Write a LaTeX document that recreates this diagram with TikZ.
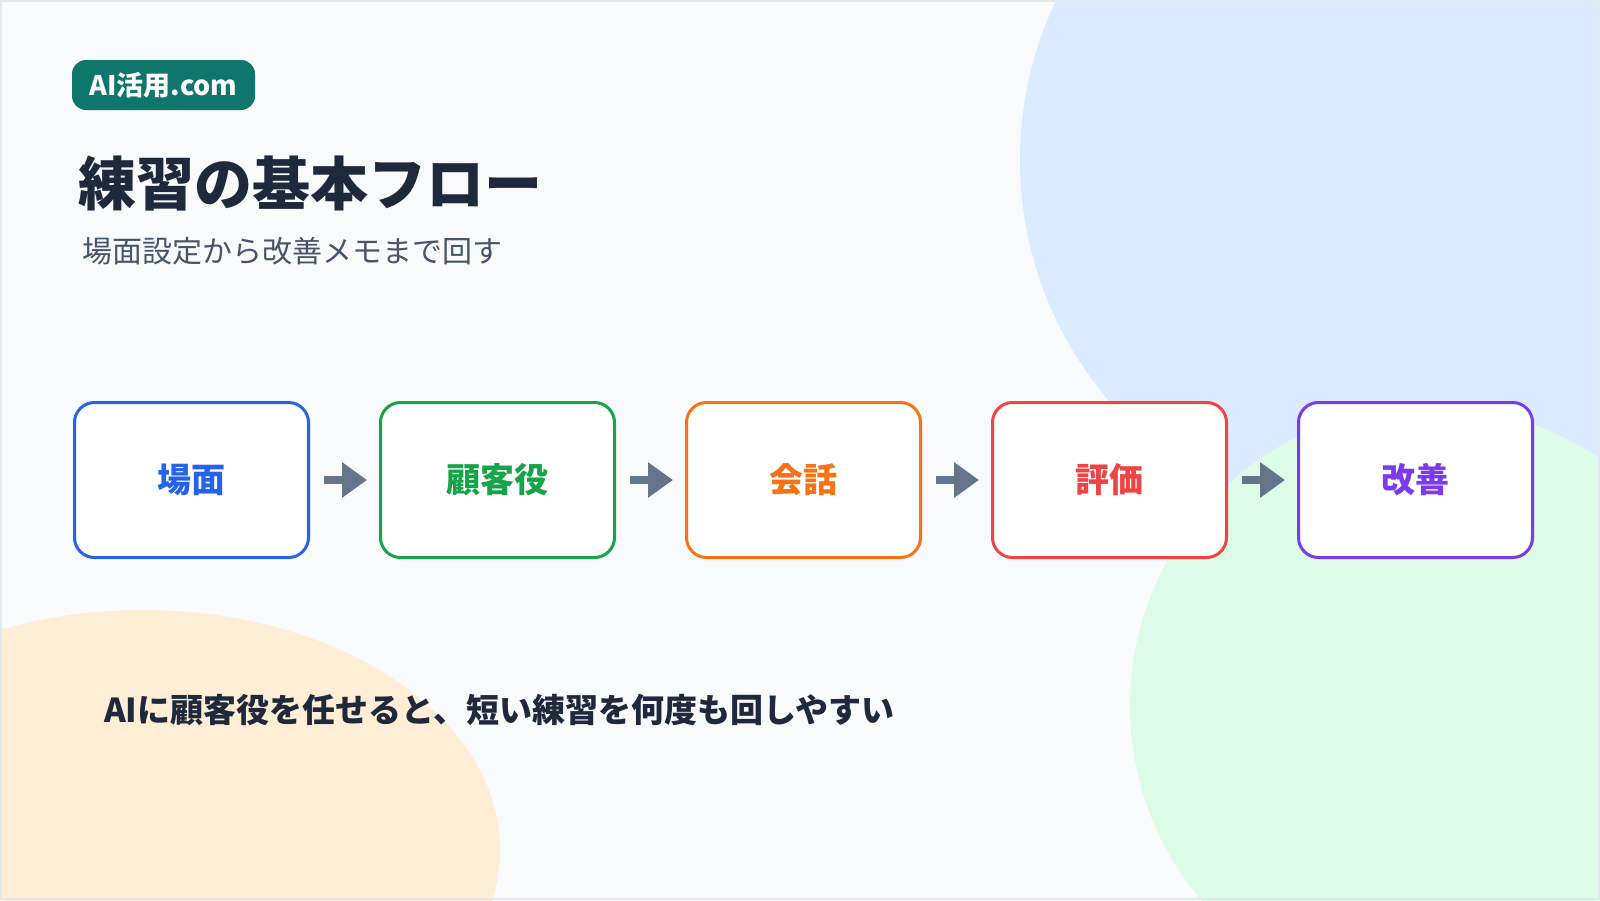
\documentclass[tikz,border=0pt]{standalone}
\usepackage{fontspec}
\setmainfont{Noto Sans CJK JP}
\usetikzlibrary{positioning,arrows.meta}

\definecolor{pagebg}{HTML}{F8FAFC}
\definecolor{pageframe}{HTML}{E2E8F0}
\definecolor{blobblue}{HTML}{DBEAFE}
\definecolor{blobgreen}{HTML}{DCFCE7}
\definecolor{blobpeach}{HTML}{FFEDD5}
\definecolor{tagteal}{HTML}{0F766E}
\definecolor{inkdark}{HTML}{1E293B}
\definecolor{subgray}{HTML}{475569}
\definecolor{arrowgray}{HTML}{64748B}
\definecolor{sceneblue}{HTML}{2563EB}
\definecolor{rolegreen}{HTML}{16A34A}
\definecolor{talkorange}{HTML}{F97316}
\definecolor{evalred}{HTML}{EF4444}
\definecolor{fixpurple}{HTML}{7C3AED}

\begin{document}
\begin{tikzpicture}[
            x=1pt, y=-1pt,
            node distance=72pt,
            stage/.style={draw=#1, text=#1, fill=white, line width=3pt, rounded corners=20pt,
                minimum width=234pt, minimum height=155pt, outer sep=0pt,
                font=\fontsize{34}{40}\selectfont\bfseries},
            arrow/.style={-{Triangle[length=25pt,width=34pt]}, line width=7.5pt, arrowgray,
                shorten <=15.5pt, shorten >=13.5pt}
        ]
            \useasboundingbox (0,0) rectangle (1600,900);
            \fill[pagebg] (0,0) rectangle (1600,900);
            \begin{scope}
                \clip (0,0) rectangle (1600,900);
                \fill[blobblue] (1390,160) circle[radius=370pt];
                \fill[blobgreen] (1430,706) circle[radius=300pt];
                \fill[blobpeach] (143,850) ellipse[x radius=357pt, y radius=240pt];
            \end{scope}
            \draw[pageframe, line width=2pt] (1,1) rectangle (1599,899);

            \node[fill=tagteal, text=white, rounded corners=14pt, minimum width=183pt, minimum height=50pt,
                inner sep=0pt, font=\fontsize{27}{32}\selectfont\bfseries] (tag) at (163.5,85) {AI活用.com};
            \node[anchor=base west, inner sep=0pt, text=inkdark, font=\fontsize{58}{64}\selectfont\bfseries] (title) at (78,205) {練習の基本フロー};
            \node[anchor=base west, inner sep=0pt, text=subgray, font=\fontsize{30}{36}\selectfont] (subtitle) at (82,262) {場面設定から改善メモまで回す};

            \node[stage=sceneblue] (scene) at (191.5,480) {場面};
            \node[stage=rolegreen, right=of scene] (role) {顧客役};
            \node[stage=talkorange, right=of role] (talk) {会話};
            \node[stage=evalred, right=of talk] (review) {評価};
            \node[stage=fixpurple, right=of review] (improve) {改善};

            \draw[arrow] (scene) -- (role);
            \draw[arrow] (role) -- (talk);
            \draw[arrow] (talk) -- (review);
            \draw[arrow] (review) -- (improve);

            \node[anchor=base west, inner sep=0pt, text=inkdark, font=\fontsize{33}{40}\selectfont\bfseries] (note) at (104,722) {AIに顧客役を任せると、短い練習を何度も回しやすい};
        \end{tikzpicture}
\end{document}
